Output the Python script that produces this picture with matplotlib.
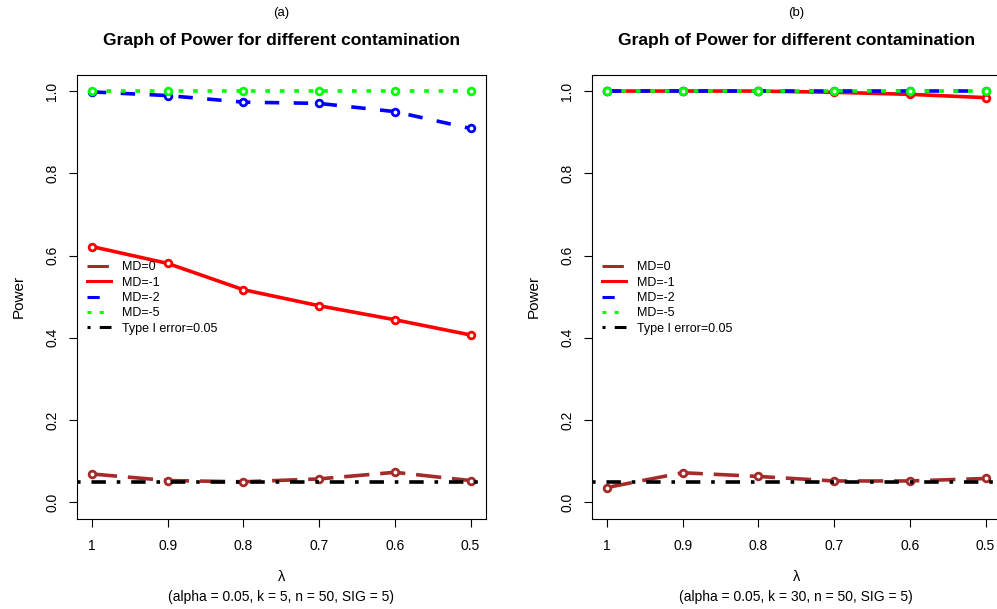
import matplotlib
matplotlib.use('Agg')
import matplotlib.pyplot as plt
from matplotlib.lines import Line2D

plt.rcParams.update({
    'font.family': ['Liberation Sans', 'DejaVu Sans'],
    'font.size': 10,
    'axes.linewidth': 0.8,
})

# ── data ──
lam = [1, 0.9, 0.8, 0.7, 0.6, 0.5]
lam_labels = ['1', '0.9', '0.8', '0.7', '0.6', '0.5']
series_names = ['MD=0', 'MD=-1', 'MD=-2', 'MD=-5']
type1 = 0.05

# panel (a): k = 5
a_md0 = [0.069, 0.053, 0.050, 0.057, 0.073, 0.053]
a_md1 = [0.622, 0.581, 0.517, 0.478, 0.444, 0.407]
a_md2 = [0.998, 0.989, 0.973, 0.970, 0.950, 0.909]
a_md5 = [1.000, 1.000, 1.000, 1.000, 1.000, 1.000]

# panel (b): k = 30
b_md0 = [0.036, 0.072, 0.063, 0.052, 0.052, 0.058]
b_md1 = [1.000, 1.000, 1.000, 0.997, 0.992, 0.984]
b_md2 = [1.000, 1.000, 1.000, 1.000, 1.000, 1.000]
b_md5 = [1.000, 1.000, 1.000, 1.000, 1.000, 1.000]

panels = [
    ('(a)', '(alpha = 0.05, k = 5, n = 50, SIG = 5)', [a_md0, a_md1, a_md2, a_md5]),
    ('(b)', '(alpha = 0.05, k = 30, n = 50, SIG = 5)', [b_md0, b_md1, b_md2, b_md5]),
]

# R-like styles: brown longdash, red solid, blue dashed, green dotted
styles = [
    dict(color='#A52A2A', ls=(0, (7, 3))),
    dict(color='#FF0000', ls='-'),
    dict(color='#0000FF', ls=(0, (4, 4))),
    dict(color='#00FF00', ls=(0, (1.3, 2.7))),
]
LW = 2.6
ref_style = dict(color='black', ls=(0, (1, 3, 4, 3)))

W, H = 997, 609
fig = plt.figure(figsize=(W / 100, H / 100), dpi=100)

lefts = [76.7, 591.7]
ax_w = 409.0
ax_top, ax_bot = 74.6, 518.8

for (tag, sub, data), left in zip(panels, lefts):
    ax = fig.add_axes([left / W, (H - ax_bot) / H, ax_w / W, (ax_bot - ax_top) / H])
    for vals, st in zip(data, styles):
        ax.plot(lam, vals, color=st['color'], ls=st['ls'], lw=LW,
                marker='o', ms=4.8, mew=2.0, mfc='white', mec=st['color'],
                solid_capstyle='round', dash_capstyle='butt')
    ax.axhline(type1, color=ref_style['color'], ls=ref_style['ls'], lw=LW)

    ax.set_xlim(1.02, 0.48)
    ax.set_ylim(-0.04, 1.04)
    ax.set_xticks(lam)
    ax.set_xticklabels(lam_labels)
    ax.set_yticks([0, 0.2, 0.4, 0.6, 0.8, 1.0])
    ax.set_yticklabels(['0.0', '0.2', '0.4', '0.6', '0.8', '1.0'],
                       rotation=90, va='center')
    ax.tick_params(axis='x', length=5.5, width=0.8, pad=9, labelsize=10)
    ax.tick_params(axis='y', length=5.5, width=0.8, pad=7, labelsize=10)
    ax.set_ylabel('Power', fontsize=11, labelpad=14)

    handles = [Line2D([], [], color=st['color'], ls=st['ls'], lw=2.2)
               for st in styles]
    handles.append(Line2D([], [], color='black', ls=ref_style['ls'], lw=2.2))
    ax.legend(handles, series_names + ['Type I error=0.05'],
              loc='upper left', bbox_to_anchor=(0.025, 0.58),
              frameon=False, fontsize=9, handlelength=1.95,
              handletextpad=0.85, labelspacing=0.27,
              borderpad=0, borderaxespad=0)

    cx = (left + ax_w / 2) / W
    fig.text(cx, 1 - 13 / H, tag, ha='center', va='center', fontsize=9.5)
    fig.text(cx, 1 - 41 / H, 'Graph of Power for different contamination',
             ha='center', va='center', fontsize=12.6, fontweight='bold')
    fig.text(cx, 1 - 577 / H, 'λ', ha='center', va='center', fontsize=10.5)
    fig.text(cx, 1 - 597 / H, sub, ha='center', va='center', fontsize=10)

fig.savefig('out.png', dpi=100)
